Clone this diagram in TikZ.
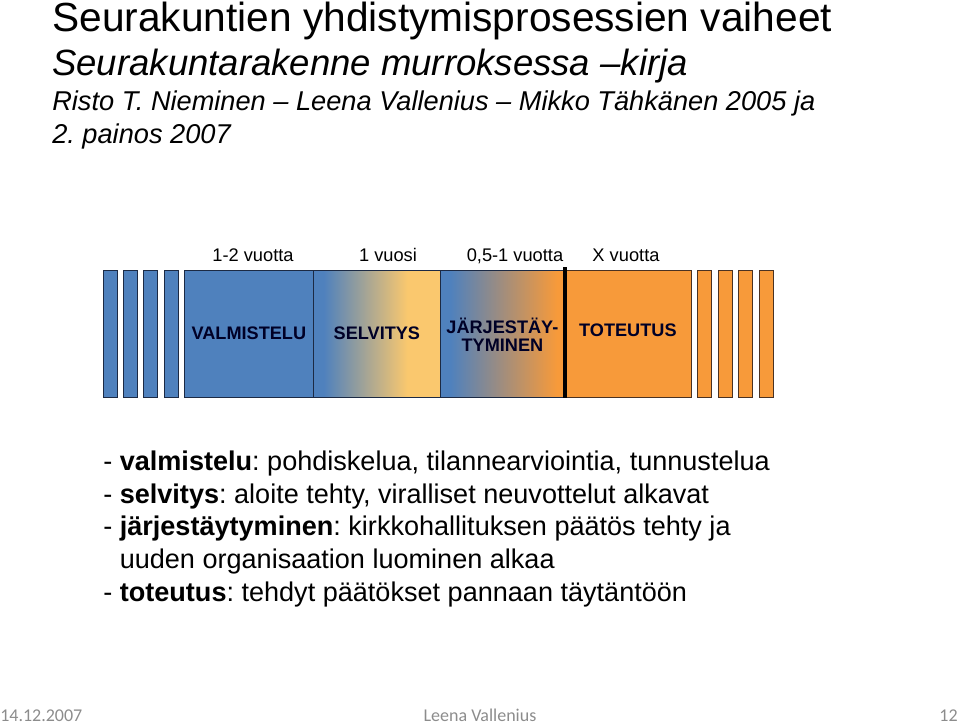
\documentclass[tikz,border=0pt]{standalone}
\usepackage{fontspec}
\setmainfont{Liberation Sans}
\newfontfamily\footfont{Carlito}
\usetikzlibrary{positioning}
\definecolor{phblue}{HTML}{4F81BD}
\definecolor{phyellow}{HTML}{FAC86E}
\definecolor{phorange}{HTML}{F79A3A}
\definecolor{blueedge}{HTML}{1C2A44}
\definecolor{orangeedge}{HTML}{4A3222}
\definecolor{footgray}{HTML}{8C8C8C}
\pgfdeclarehorizontalshading{selvshade}{100bp}{color(0bp)=(phblue); color(29bp)=(phblue); color(62bp)=(phyellow); color(100bp)=(phyellow)}
\pgfdeclarehorizontalshading{jarjshade}{100bp}{color(0bp)=(phblue); color(29bp)=(phblue); color(72bp)=(phorange); color(100bp)=(phorange)}
\tikzset{
  headtext/.style={anchor=base west,inner sep=0pt},
  phase/.style={draw=blueedge,line width=0.6pt,anchor=north west,minimum height=95.25pt,
    inner sep=0pt,align=center,font=\fontsize{13.6}{13.5}\selectfont\bfseries,text=black!85!blue},
  spanlabel/.style={anchor=base,inner sep=0pt,font=\fontsize{13.7}{15}\selectfont},
  footlabel/.style={anchor=base,inner sep=0pt,font=\footfont\fontsize{13.5}{15}\selectfont,text=footgray}
}
\frenchspacing

\begin{document}
\begin{tikzpicture}[x=0.75pt,y=-0.75pt]
  \useasboundingbox (0,0) rectangle (960,724);
  % heading
  \node[headtext,font=\fontsize{30.5}{34}\selectfont] (title) at (52,32) {Seurakuntien yhdistymisprosessien vaiheet};
  \node[headtext,font=\fontsize{27.4}{30}\selectfont\itshape] (book) at (52,75) {Seurakuntarakenne murroksessa –kirja};
  \node[headtext,font=\fontsize{20.4}{24}\selectfont\itshape] (authors) at (52,110) {Risto T. Nieminen – Leena Vallenius – Mikko Tähkänen 2005 ja};
  \node[headtext,font=\fontsize{20.4}{24}\selectfont\itshape] (edition) at (52,143) {2. painos 2007};
  % earlier and later small bars
  \foreach \x in {103,123,143,164}
    \draw[draw=blueedge,fill=phblue,line width=0.6pt] (\x,270) rectangle ++(14,127);
  \foreach \x in {697,718,738,759}
    \draw[draw=orangeedge,fill=phorange,line width=0.6pt] (\x,270) rectangle ++(14,127);
  % phases
  \node[phase,fill=phblue,minimum width=96.75pt,text depth=1.2pt] (valm) at (184,270) {VALMISTELU};
  \node[phase,shade,shading=selvshade,minimum width=95.25pt,text depth=1.2pt] (selv) at (313,270) {SELVITYS};
  \node[phase,shade,shading=jarjshade,minimum width=93pt] (jarj) at (440,270)
    {\raisebox{-2.6pt}[\height][\depth]{\begin{tabular}{@{}c@{}}JÄRJESTÄY-\\TYMINEN\end{tabular}}};
  \node[phase,draw=orangeedge,fill=phorange,minimum width=95.25pt,text depth=6pt] (tot) at (564,270) {TOTEUTUS};
  \draw[line width=3pt] ([yshift=2pt]jarj.north east) -- (jarj.south east);
  % durations
  \node[spanlabel] (d1) at (253,261) {1-2 vuotta};
  \node[spanlabel] (d2) at (388,261) {1 vuosi};
  \node[spanlabel] (d3) at (515,261) {0,5-1 vuotta};
  \node[spanlabel] (d4) at (626,261) {X vuotta};
  % explanations
  \node[anchor=north west,inner sep=0pt,align=left,font=\fontsize{20.3}{24.4}\selectfont] (notes) at (103,451)
    {- \textbf{valmistelu}: pohdiskelua, tilannearviointia, tunnustelua\\
     - \textbf{selvitys}: aloite tehty, viralliset neuvottelut alkavat\\
     - \textbf{järjestäytyminen}: kirkkohallituksen päätös tehty ja\\
     \hphantom{- }uuden organisaation luominen alkaa\\
     - \textbf{toteutus}: tehdyt päätökset pannaan täytäntöön};
  % footer
  \node[footlabel,anchor=base west] (date) at (0,721) {14.12.2007};
  \node[footlabel] (author) at (480,721) {Leena Vallenius};
  \node[footlabel,anchor=base east] (page) at (958,721) {12};
\end{tikzpicture}
\end{document}
